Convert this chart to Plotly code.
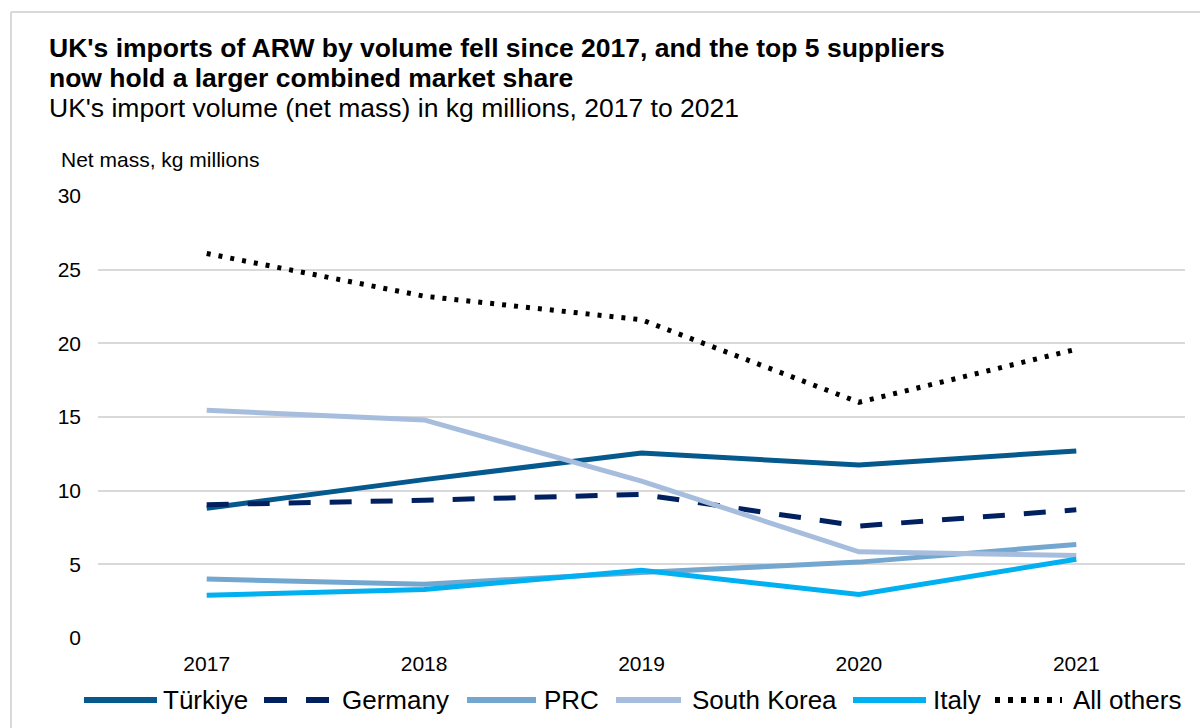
import plotly.graph_objects as go

# Net mass of ARW imports into the UK, kg millions
years = ["2017", "2018", "2019", "2020", "2021"]
turkiye = [8.8, 10.75, 12.55, 11.75, 12.7]
germany = [9.05, 9.35, 9.75, 7.6, 8.7]
prc = [4.0, 3.65, 4.45, 5.15, 6.35]
south_korea = [15.45, 14.8, 10.65, 5.85, 5.6]
italy = [2.9, 3.3, 4.6, 2.95, 5.35]
all_others = [26.1, 23.2, 21.6, 16.0, 19.6]

y_ticks = [0, 5, 10, 15, 20, 25, 30]

FONT = "Liberation Sans, Arial, sans-serif"
W, H = 1200, 728
ML, MR, MT, MB = 98, 15, 196, 90
PW, PH = W - ML - MR, H - MT - MB


def px(x):
    return (x - ML) / PW


def py(y):
    return (H - MB - y) / PH


series = [
    ("All others", all_others, "#000000", "4px,8px", 5),
    ("Türkiye", turkiye, "#05598c", "solid", 5),
    ("Germany", germany, "#002060", "22px,19px", 5),
    ("PRC", prc, "#74a7cf", "solid", 5),
    ("South Korea", south_korea, "#a7bddd", "solid", 5),
    ("Italy", italy, "#00b0f0", "solid", 5),
]

fig = go.Figure()
for name, vals, color, dash, width in series:
    fig.add_trace(go.Scatter(
        x=years, y=vals, name=name, mode="lines",
        line=dict(color=color, width=width, dash=dash),
        showlegend=False,
    ))

shapes = []
annotations = []

# outer frame (left and top edges)
shapes.append(dict(type="line", xref="paper", yref="paper",
                   x0=px(11), x1=px(11), y0=py(12), y1=py(H + 5),
                   line=dict(color="#d9d9d9", width=2)))
shapes.append(dict(type="line", xref="paper", yref="paper",
                   x0=px(11), x1=px(W + 5), y0=py(12), y1=py(12),
                   line=dict(color="#d9d9d9", width=2)))

# legend row
legend_items = [
    ("Türkiye", "#05598c", "solid", 84, 157, 161),
    ("Germany", "#002060", "23px,19px", 264, 329, 340),
    ("PRC", "#74a7cf", "solid", 467, 536, 542),
    ("South Korea", "#a7bddd", "solid", 616, 681, 690),
    ("Italy", "#00b0f0", "solid", 853, 926, 931),
    ("All others", "#000000", "5px,8px", 995, 1062, 1071),
]
LEG_Y = 700
for label, color, dash, x0, x1, xt in legend_items:
    shapes.append(dict(type="line", xref="paper", yref="paper",
                       x0=px(x0), x1=px(x1), y0=py(LEG_Y), y1=py(LEG_Y),
                       line=dict(color=color, width=6, dash=dash)))
    annotations.append(dict(xref="paper", yref="paper", x=px(xt), y=py(LEG_Y),
                            xanchor="left", yanchor="middle", showarrow=False,
                            text=label, font=dict(family=FONT, size=26, color="#000000")))

# titles
annotations += [
    dict(xref="paper", yref="paper", x=px(47), y=py(48), xanchor="left", yanchor="middle",
         showarrow=False, text="<b>UK's imports of ARW by volume fell since 2017, and the top 5 suppliers</b>",
         font=dict(family=FONT, size=26.5, color="#000000")),
    dict(xref="paper", yref="paper", x=px(47), y=py(78), xanchor="left", yanchor="middle",
         showarrow=False, text="<b>now hold a larger combined market share</b>",
         font=dict(family=FONT, size=26.5, color="#000000")),
    dict(xref="paper", yref="paper", x=px(47), y=py(108), xanchor="left", yanchor="middle",
         showarrow=False, text="UK's import volume (net mass) in kg millions, 2017 to 2021",
         font=dict(family=FONT, size=26.5, color="#000000")),
    dict(xref="paper", yref="paper", x=px(59), y=py(159), xanchor="left", yanchor="middle",
         showarrow=False, text="Net mass, kg millions",
         font=dict(family=FONT, size=21, color="#000000")),
]

fig.update_layout(
    width=W, height=H,
    margin=dict(l=ML, r=MR, t=MT, b=MB, pad=0),
    paper_bgcolor="#ffffff", plot_bgcolor="#ffffff",
    font=dict(family=FONT, size=21, color="#000000"),
    shapes=shapes, annotations=annotations,
    showlegend=False,
    xaxis=dict(type="category", range=[-0.5, 4.5], showgrid=False, zeroline=False,
               showline=False, ticks="", tickfont=dict(family=FONT, size=21),
               ticklabelstandoff=11, fixedrange=True),
    yaxis=dict(range=[0, 30], tickvals=y_ticks, showgrid=True, gridcolor="#d9d9d9",
               gridwidth=1.5, zeroline=False, showline=False, ticks="",
               tickfont=dict(family=FONT, size=21), ticklabelstandoff=16, fixedrange=True),
)

fig.write_html("out.html")
